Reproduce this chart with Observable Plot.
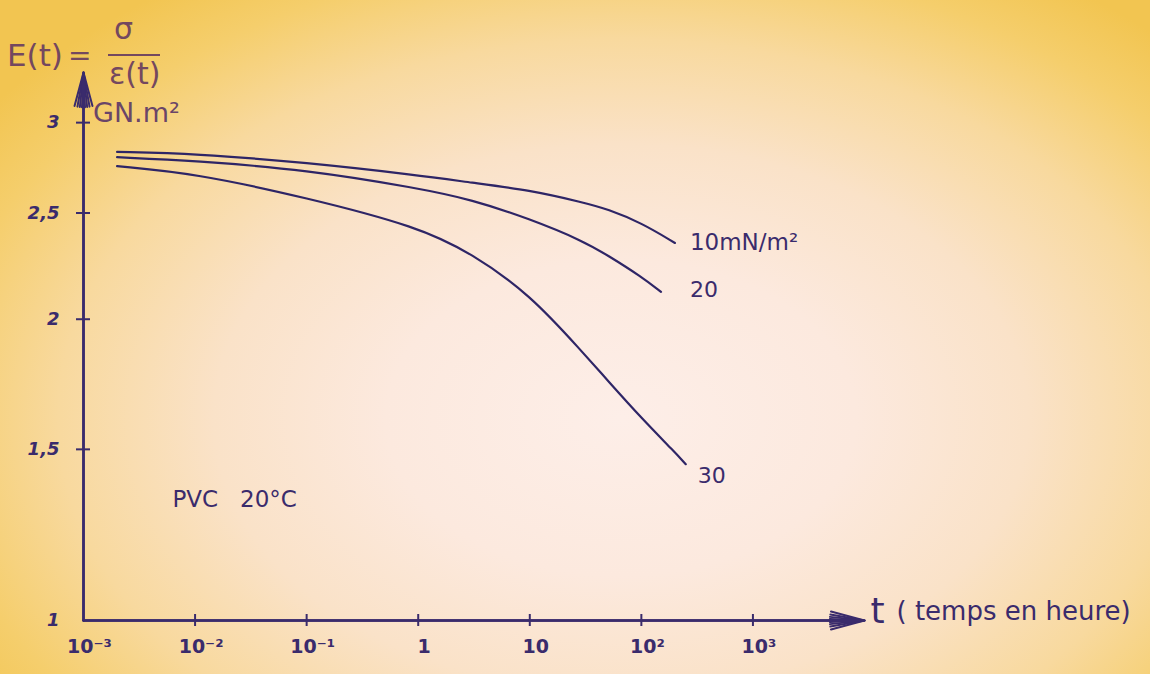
<!DOCTYPE html>
<html>
<head>
<meta charset="utf-8">
<script src="https://cdn.jsdelivr.net/npm/d3@7"></script>
<script src="https://cdn.jsdelivr.net/npm/@observablehq/plot@0.6"></script>
<style>
  html, body { margin: 0; padding: 0; width: 1150px; height: 674px; overflow: hidden; }
  body {
    position: relative;
    font-family: "DejaVu Sans", sans-serif;
    background:
      radial-gradient(ellipse 68% 78% at 54% 62%, #fdeee8 0%, #fce9de 30%, #fae2c8 52%, #f8d99e 72%, #f5ce6c 88%, #f2c551 100%);
  }
  #chart { position: absolute; left: 0; top: 0; }
  .ink { position: absolute; color: #74485f; white-space: nowrap; line-height: 1; }
  #frac-bar { position: absolute; left: 108px; top: 54px; width: 52px; height: 2px; background: #74485f; }
</style>
</head>
<body>
<div id="chart"></div>
<div class="ink" style="left:7px;top:40px;font-size:31px;">E(t)</div>
<div class="ink" style="left:68px;top:42px;font-size:28px;">=</div>
<div class="ink" style="left:114px;top:14px;font-size:30px;">σ</div>
<div id="frac-bar"></div>
<div class="ink" style="left:109px;top:59px;font-size:30px;">ε(t)</div>
<div class="ink" style="left:93px;top:99px;font-size:27px;color:#6a4568;">GN.m²</div>
<script>
// ---- data (PVC, 20 °C) ----
const stressLevels = ["10", "20", "30"];                 // mN/m²
const time10 = [0.002, 0.01, 0.1, 1, 3, 10, 30, 50, 100, 200];   // hours
const modulus10 = [2.83, 2.82, 2.77, 2.70, 2.66, 2.62, 2.555, 2.52, 2.45, 2.35];
const time20 = [0.002, 0.01, 0.1, 1, 3, 10, 30, 50, 100, 150];
const modulus20 = [2.80, 2.78, 2.73, 2.63, 2.57, 2.47, 2.36, 2.29, 2.19, 2.12];
const time30 = [0.002, 0.01, 0.1, 1, 3, 10, 30, 50, 100, 200, 250];
const modulus30 = [2.75, 2.71, 2.58, 2.43, 2.30, 2.11, 1.86, 1.75, 1.61, 1.49, 1.45];

const xTickValues = [1e-3, 1e-2, 1e-1, 1, 10, 100, 1000];
const xTickLabels = ["10⁻³", "10⁻²", "10⁻¹", "1", "10", "10²", "10³"];
const yTickValues = [1, 1.5, 2, 2.5, 3];
const yTickLabels = ["1", "1,5", "2", "2,5", "3"];
const seriesLabels = ["10mN/m²", "20", "30"];

const xDomain = [1e-3, 1e4];
const yDomain = [1, 3.31];

// ---- build table ----
const seriesTimes = [time10, time20, time30];
const seriesValues = [modulus10, modulus20, modulus30];
const rows = [];
stressLevels.forEach((s, k) => {
  seriesTimes[k].forEach((t, i) => rows.push({stress: s, t, E: seriesValues[k][i]}));
});
const bySeries = s => rows.filter(r => r.stress === s);

const ink = "#3a2b6c";
const axesLines = [
  {x1: xDomain[0], y1: yDomain[0], x2: xDomain[1], y2: yDomain[0]},
  {x1: xDomain[0], y1: yDomain[0], x2: xDomain[0], y2: yDomain[1]}
];

const arrowMarks = [30, 20, 12, 5].map(a =>
  Plot.arrow(axesLines, {x1: "x1", y1: "y1", x2: "x2", y2: "y2", stroke: ink, strokeWidth: 2, headAngle: a, headLength: 26})
);

const chart = Plot.plot({
  width: 1150,
  height: 674,
  marginLeft: 83,
  marginRight: 286,
  marginTop: 72,
  marginBottom: 54,
  style: {background: "transparent", fontFamily: "'DejaVu Sans', sans-serif", color: ink, overflow: "visible"},
  x: {type: "log", domain: xDomain, axis: null},
  y: {type: "pow", exponent: 0.2, domain: yDomain, axis: null},
  marks: [
    ...arrowMarks,
    // x ticks crossing the axis
    Plot.ruleX(xTickValues.slice(1), {x: d => d, y1: yDomain[0], y2: yDomain[0], insetTop: 6, insetBottom: 6, stroke: ink, strokeWidth: 2}),
    // y ticks crossing the axis
    Plot.ruleY(yTickValues.slice(1), {y: d => d, x1: xDomain[0], x2: xDomain[0], insetLeft: 7, insetRight: 7, stroke: ink, strokeWidth: 2}),
    // x tick labels
    Plot.text(xTickValues, {x: d => d, y: yDomain[0], text: (d, i) => xTickLabels[i], dy: 26, dx: 6, fontSize: 19, fontWeight: "bold", fill: ink}),
    // y tick labels
    Plot.text(yTickValues, {x: xDomain[0], y: d => d, text: (d, i) => yTickLabels[i], textAnchor: "end", dx: -24, fontSize: 18, fontWeight: "bold", fontStyle: "italic", fill: ink}),
    // curves
    Plot.line(rows, {x: "t", y: "E", z: "stress", curve: "basis", stroke: "#2e2566", strokeWidth: 2.2}),
    // curve labels
    Plot.text(bySeries("10"), Plot.selectLast({x: "t", y: "E", text: () => seriesLabels[0], textAnchor: "start", dx: 15, dy: 0, fontSize: 23, fill: ink})),
    Plot.text(bySeries("20"), Plot.selectLast({x: "t", y: "E", text: () => seriesLabels[1], textAnchor: "start", dx: 29, dy: -2, fontSize: 22, fill: ink})),
    Plot.text(bySeries("30"), Plot.selectLast({x: "t", y: "E", text: () => seriesLabels[2], textAnchor: "start", dx: 12, dy: 12, fontSize: 22, fill: ink})),
    // annotation
    Plot.text(["PVC   20°C"], {frameAnchor: "top-left", dx: 89, dy: 418, textAnchor: "start", fontSize: 23, fill: ink}),
    // x-axis title
    Plot.text(["t"], {frameAnchor: "bottom-right", dx: 6, dy: 2, textAnchor: "start", fontSize: 36, fill: ink}),
    Plot.text(["( temps en heure)"], {frameAnchor: "bottom-right", dx: 32, dy: -1, textAnchor: "start", fontSize: 26, fill: ink})
  ]
});
document.getElementById("chart").append(chart);
</script>
</body>
</html>
